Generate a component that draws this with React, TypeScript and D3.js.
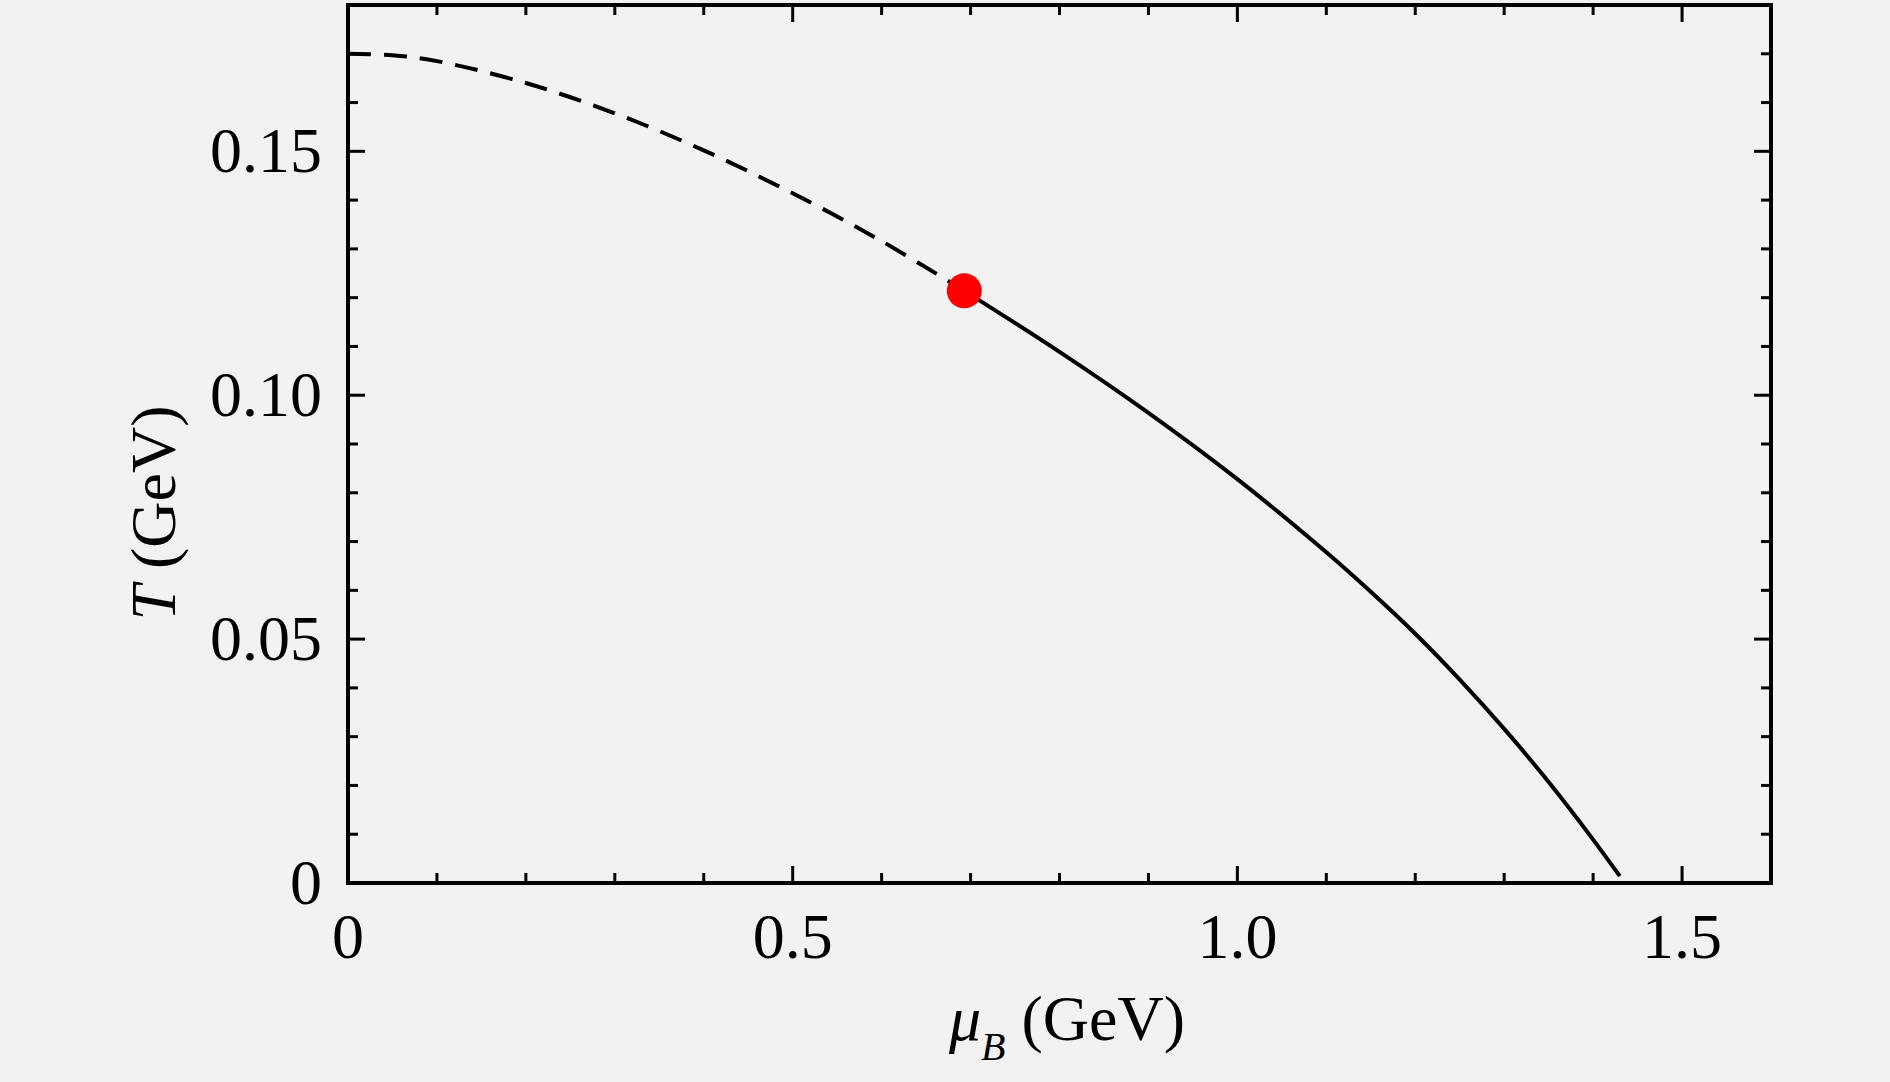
import * as d3 from "d3";

// phase boundary (GeV)
const crossoverMu = [0, 0.05, 0.1, 0.2, 0.3, 0.4, 0.5, 0.6, 0.693];
const crossoverT = [0.170, 0.1697, 0.1685, 0.164, 0.1578, 0.1502, 0.1414, 0.1316, 0.1214];

const firstOrderMu = [0.693, 0.8, 0.9, 1.0, 1.1, 1.15, 1.2, 1.25, 1.3, 1.35, 1.4, 1.43];
const firstOrderT = [0.1214, 0.1089, 0.0964, 0.0828, 0.0678, 0.0597, 0.0511, 0.0417, 0.0316, 0.0207, 0.0089, 0.0014];

const criticalPoint = { mu: 0.693, T: 0.1214 };

const xMajorTicks = [0, 0.5, 1.0, 1.5];
const xTickLabels = ["0", "0.5", "1.0", "1.5"];
const yMajorTicks = [0, 0.05, 0.1, 0.15];
const yTickLabels = ["0", "0.05", "0.10", "0.15"];

const W = 1890;
const H = 1082;
const margin = { top: 5, right: 119, bottom: 199, left: 348 };
const font = "'Liberation Serif', 'Times New Roman', serif";

export default function App() {
  const innerW = W - margin.left - margin.right;
  const innerH = H - margin.top - margin.bottom;

  const x = d3.scaleLinear().domain([0, 1.6]).range([0, innerW]);
  const y = d3.scaleLinear().domain([0, 0.18]).range([innerH, 0]);

  const line = d3
    .line<[number, number]>()
    .x((d) => x(d[0]))
    .y((d) => y(d[1]))
    .curve(d3.curveCatmullRom.alpha(0.5));

  const dashed = line(crossoverMu.map((m, i) => [m, crossoverT[i]] as [number, number])) ?? "";
  const solid = line(firstOrderMu.map((m, i) => [m, firstOrderT[i]] as [number, number])) ?? "";

  const xMinor = d3.range(0, 1.6001, 0.1).filter((v) => Math.abs(v / 0.5 - Math.round(v / 0.5)) > 1e-6);
  const yMinor = d3.range(0, 0.1801, 0.01).filter((v) => Math.abs(v / 0.05 - Math.round(v / 0.05)) > 1e-6);

  const major = 17;
  const minor = 10;
  const tickStroke = 3;

  return (
    <div style={{ position: "fixed", left: 0, top: 0 }}>
      <svg width={W} height={H} style={{ display: "block" }}>
        <rect width={W} height={H} fill="#f2f2f2" />
        <g transform={`translate(${margin.left},${margin.top})`}>
          {/* x ticks, bottom and top, pointing inwards */}
          {xMajorTicks.map((v) => (
            <g key={`xM-${v}`}>
              <line x1={x(v)} x2={x(v)} y1={innerH} y2={innerH - major} stroke="#000" strokeWidth={tickStroke} />
              <line x1={x(v)} x2={x(v)} y1={0} y2={major} stroke="#000" strokeWidth={tickStroke} />
            </g>
          ))}
          {xMinor.map((v) => (
            <g key={`xm-${v}`}>
              <line x1={x(v)} x2={x(v)} y1={innerH} y2={innerH - minor} stroke="#000" strokeWidth={tickStroke} />
              <line x1={x(v)} x2={x(v)} y1={0} y2={minor} stroke="#000" strokeWidth={tickStroke} />
            </g>
          ))}
          {yMajorTicks.map((v) => (
            <g key={`yM-${v}`}>
              <line x1={0} x2={major} y1={y(v)} y2={y(v)} stroke="#000" strokeWidth={tickStroke} />
              <line x1={innerW} x2={innerW - major} y1={y(v)} y2={y(v)} stroke="#000" strokeWidth={tickStroke} />
            </g>
          ))}
          {yMinor.map((v) => (
            <g key={`ym-${v}`}>
              <line x1={0} x2={minor} y1={y(v)} y2={y(v)} stroke="#000" strokeWidth={tickStroke} />
              <line x1={innerW} x2={innerW - minor} y1={y(v)} y2={y(v)} stroke="#000" strokeWidth={tickStroke} />
            </g>
          ))}

          {/* tick labels */}
          {xMajorTicks.map((v, i) => (
            <text key={`xl-${v}`} x={x(v)} y={innerH + 75} fontFamily={font} fontSize={64} textAnchor="middle" fill="#000">
              {xTickLabels[i]}
            </text>
          ))}
          {yMajorTicks.map((v, i) => (
            <text key={`yl-${v}`} x={-26} y={y(v) + 21} fontFamily={font} fontSize={64} textAnchor="end" fill="#000">
              {yTickLabels[i]}
            </text>
          ))}

          {/* curves */}
          <path d={dashed} fill="none" stroke="#000" strokeWidth={4} strokeDasharray="23 13" />
          <path d={solid} fill="none" stroke="#000" strokeWidth={4} />
          <circle cx={x(criticalPoint.mu)} cy={y(criticalPoint.T)} r={17.5} fill="#f00" />

          {/* frame */}
          <rect x={0} y={0} width={innerW} height={innerH} fill="none" stroke="#000" strokeWidth={4} />
        </g>

        {/* axis titles */}
        <text x={1067} y={1040} fontFamily={font} fontSize={64} textAnchor="middle" fill="#000">
          <tspan fontStyle="italic">μ</tspan>
          <tspan fontStyle="italic" fontSize={40} dy={20}>B</tspan>
          <tspan dy={-20}> (GeV)</tspan>
        </text>
        <text
          transform="translate(175,513) rotate(-90)"
          fontFamily={font}
          fontSize={64}
          textAnchor="middle"
          fill="#000"
        >
          <tspan fontStyle="italic">T</tspan>
          <tspan> (GeV)</tspan>
        </text>
      </svg>
    </div>
  );
}
